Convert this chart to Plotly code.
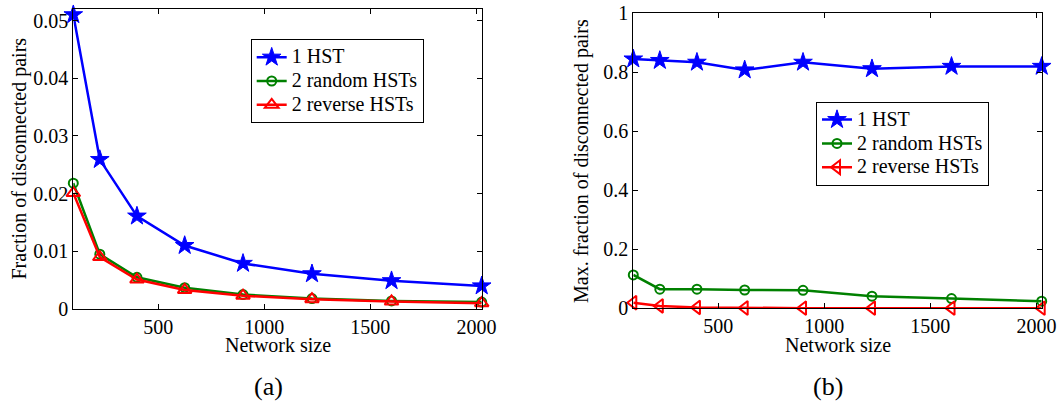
import plotly.graph_objects as go

# ---- data ----
network_size = [100, 225, 400, 625, 900, 1225, 1600, 2025]

# (a) Fraction of disconnected pairs
a_one_hst = [0.0510, 0.0259, 0.0161, 0.0110, 0.0079, 0.0061, 0.0049, 0.0040]
a_two_random = [0.0218, 0.0095, 0.0055, 0.0037, 0.0025, 0.0018, 0.0014, 0.0012]
a_two_reverse = [0.0201, 0.0090, 0.0051, 0.0033, 0.0023, 0.0017, 0.0013, 0.0010]

# (b) Max. fraction of disconnected pairs
b_one_hst = [0.845, 0.840, 0.834, 0.808, 0.834, 0.812, 0.820, 0.820]
b_two_random = [0.113, 0.065, 0.065, 0.062, 0.061, 0.041, 0.033, 0.024]
b_two_reverse = [0.019, 0.008, 0.003, 0.001, 0.0005, 0.0005, 0.0005, 0.0005]

series_names = ["1 HST", "2 random HSTs", "2 reverse HSTs"]
a_yticks = [0, 0.01, 0.02, 0.03, 0.04, 0.05]
a_yticklabels = ["0", "0.01", "0.02", "0.03", "0.04", "0.05"]
b_yticks = [0, 0.2, 0.4, 0.6, 0.8, 1.0]
b_yticklabels = ["0", "0.2", "0.4", "0.6", "0.8", "1"]
xticks = [500, 1000, 1500, 2000]

W, H = 1060, 404
FONT = "Liberation Serif"
BLUE, GREEN, RED = "#0000FF", "#008000", "#FF0000"

fig = go.Figure()

def legend_label(name):
    # legend rows are spaced by the legend font size (16); the label itself is drawn at 20px
    return '<span style="font-size:20px">' + name + "</span>"

def add(x, y, name, color, symbol, size, xa, ya, legend, mlw=2):
    fig.add_trace(go.Scatter(
        x=x, y=y, name=legend_label(name), mode="lines+markers", cliponaxis=False,
        line=dict(color=color, width=2.5),
        marker=dict(symbol=symbol, size=size, color=color,
                    line=dict(color=color, width=mlw)),
        xaxis=xa, yaxis=ya, legend=legend))

add(network_size, a_one_hst, series_names[0], BLUE, "star", 14, "x", "y", "legend", 1)
add(network_size, a_two_random, series_names[1], GREEN, "circle-open", 9, "x", "y", "legend")
add(network_size, a_two_reverse, series_names[2], RED, "triangle-up-open", 12, "x", "y", "legend")

add(network_size, b_one_hst, series_names[0], BLUE, "star", 14, "x2", "y2", "legend2", 1)
add(network_size, b_two_random, series_names[1], GREEN, "circle-open", 9, "x2", "y2", "legend2")
add(network_size, b_two_reverse, series_names[2], RED, "triangle-left-open", 12, "x2", "y2", "legend2")

def px(x):
    return x / W

def py(y):
    return 1 - y / H

axis_common = dict(showline=True, linecolor="black", linewidth=1, mirror="ticks",
                   ticks="inside", ticklen=5, tickcolor="black", tickwidth=1,
                   showgrid=False, zeroline=False, automargin=False,
                   tickfont=dict(family=FONT, size=20, color="black"))

legend_common = dict(xanchor="left", yanchor="top", bordercolor="black", borderwidth=1,
                     bgcolor="white",
                     font=dict(family=FONT, size=16, color="black"))

fig.update_layout(
    width=W, height=H,
    margin=dict(l=0, r=0, t=0, b=0),
    paper_bgcolor="white", plot_bgcolor="white",
    font=dict(family=FONT, size=20, color="black"),
    xaxis=dict(domain=[px(73.3), px(481.7)], range=[100, 2025],
               tickvals=xticks, anchor="y", **axis_common),
    yaxis=dict(domain=[py(309), py(9)], range=[0, 0.052],
               tickvals=a_yticks, ticktext=a_yticklabels, anchor="x", **axis_common),
    xaxis2=dict(domain=[px(633.3), px(1041.7)], range=[100, 2025],
                tickvals=xticks, anchor="y2", **axis_common),
    yaxis2=dict(domain=[py(308.3), py(13.3)], range=[0, 1.0],
                tickvals=b_yticks, ticktext=b_yticklabels, anchor="x2", **axis_common),
    legend=dict(x=px(250.7), y=py(39.3), **legend_common),
    legend2=dict(x=px(816), y=py(101.7), **legend_common),
    showlegend=True,
)

annots = [
    dict(text="Network size", x=px(277.5), y=py(345), size=20, angle=0),
    dict(text="Network size", x=px(837.5), y=py(345), size=20, angle=0),
    dict(text="Fraction of disconnected pairs", x=px(18.5), y=py(159), size=20, angle=-90),
    dict(text="Max. fraction of disconnected pairs", x=px(581), y=py(161), size=20, angle=-90),
    dict(text="(a)", x=px(268.5), y=py(386), size=26, angle=0),
    dict(text="(b)", x=px(828), y=py(386), size=26, angle=0),
]
for a in annots:
    fig.add_annotation(text=a["text"], x=a["x"], y=a["y"], xref="paper", yref="paper",
                       xanchor="center", yanchor="middle", showarrow=False,
                       textangle=a["angle"],
                       font=dict(family=FONT, size=a["size"], color="black"))

fig.write_html("out.html")
